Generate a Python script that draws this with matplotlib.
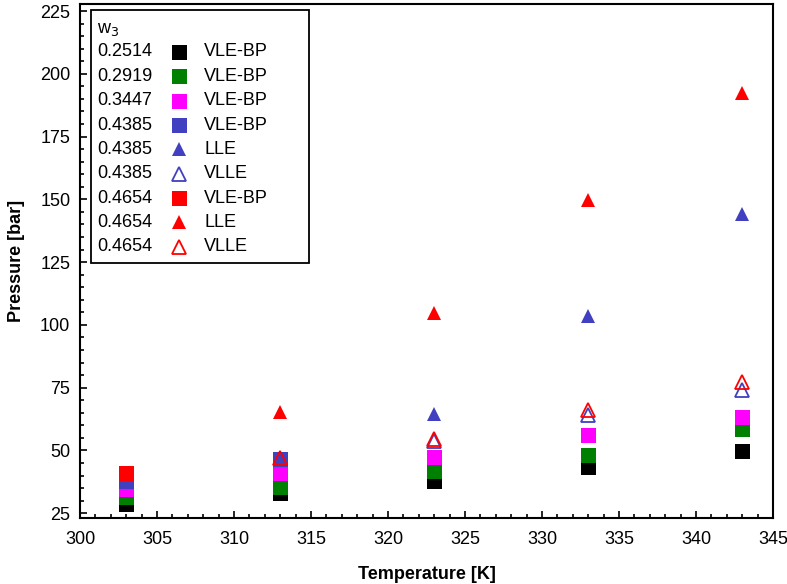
import numpy as np
import matplotlib.pyplot as plt
from matplotlib.patches import Rectangle
from matplotlib.ticker import MultipleLocator

plt.rcParams["font.family"] = ["Liberation Sans", "DejaVu Sans"]

# ── Data ──────────────────────────────────────────────────────────────────────
T_all = [303, 313, 323, 333, 343]

# VLE-BP (bubble point) series
bp_2514 = [28.5, 33.1, 38.0, 43.6, 49.9]
bp_2919 = [31.5, 35.4, 41.9, 48.2, 58.7]
bp_3447 = [34.6, 41.0, 47.5, 56.2, 63.4]
T_bp_4385 = [303, 313]
bp_4385 = [38.0, 46.6]
T_bp_4654 = [303]
bp_4654 = [41.0]

# LLE series
T_lle_4385 = [323, 333, 343]
lle_4385 = [64.6, 103.6, 144.1]
T_lle_4654 = [313, 323, 333, 343]
lle_4654 = [65.4, 104.7, 149.7, 192.5]

# VLLE series
T_vlle_4385 = [323, 333, 343]
vlle_4385 = [53.6, 64.0, 74.1]
T_vlle_4654 = [313, 323, 333, 343]
vlle_4654 = [46.8, 54.4, 66.1, 77.1]

BLUE = "#4040C0"
GREEN = "#008000"
MAGENTA = "#FF00FF"
RED = "#FF0000"

# (w3 label, T, P, colour, marker, filled, kind)
series = [
    ("0.2514", T_all, bp_2514, "black", "s", True, "VLE-BP"),
    ("0.2919", T_all, bp_2919, GREEN, "s", True, "VLE-BP"),
    ("0.3447", T_all, bp_3447, MAGENTA, "s", True, "VLE-BP"),
    ("0.4385", T_bp_4385, bp_4385, BLUE, "s", True, "VLE-BP"),
    ("0.4385", T_lle_4385, lle_4385, BLUE, "^", True, "LLE"),
    ("0.4385", T_vlle_4385, vlle_4385, BLUE, "^", False, "VLLE"),
    ("0.4654", T_bp_4654, bp_4654, RED, "s", True, "VLE-BP"),
    ("0.4654", T_lle_4654, lle_4654, RED, "^", True, "LLE"),
    ("0.4654", T_vlle_4654, vlle_4654, RED, "^", False, "VLLE"),
]

FS = 13

# ── Plot ──────────────────────────────────────────────────────────────────────
W, H = 787, 584
fig = plt.figure(figsize=(W / 100, H / 100), dpi=100)
ax = fig.add_axes([80 / W, 1 - 517.5 / H, 693 / W, 513.5 / H])

def msize(marker):
    return 10.8 if marker == "s" else 9.6

for lab, T, P, col, mk, filled, kind in series:
    ax.plot(T, P, linestyle="none", marker=mk, ms=msize(mk),
            mfc=col if filled else "none", mec=col,
            mew=0 if filled else 1.3, zorder=3)

ax.set_xlim(300, 345)
ax.set_ylim(23.3, 227.8)
ax.xaxis.set_major_locator(MultipleLocator(5))
ax.xaxis.set_minor_locator(MultipleLocator(1))
ax.yaxis.set_major_locator(MultipleLocator(25))
ax.yaxis.set_minor_locator(MultipleLocator(5))
ax.set_yticks(np.arange(25, 226, 25))
ax.tick_params(which="both", direction="in", top=False, right=False,
               labelsize=FS, width=1.2)
ax.tick_params(which="major", length=5)
ax.tick_params(which="minor", length=3)
ax.tick_params(axis="x", which="major", pad=9.5)
ax.tick_params(axis="y", which="major", pad=7)
for sp in ax.spines.values():
    sp.set_linewidth(1.5)

ax.set_xlabel("Temperature [K]", fontsize=FS, fontweight="bold", labelpad=13)
ax.set_ylabel("Pressure [bar]", fontsize=FS, fontweight="bold", labelpad=11)

# ── Legend (drawn by hand to get the three-column layout) ─────────────────────
def fx(px):
    return px / W

def fy(py):
    return 1 - py / H

box = Rectangle((fx(91), fy(263)), fx(309) - fx(91), fy(10) - fy(263),
                transform=fig.transFigure, fill=True, facecolor="white",
                edgecolor="black", linewidth=1.3, zorder=5)
fig.patches.append(box)
fig.text(fx(97), fy(30), "w$_3$", fontsize=FS, va="center", ha="left", zorder=6)
for i, (lab, T, P, col, mk, filled, kind) in enumerate(series):
    yy = fy(52 + i * 24.35)
    fig.text(fx(97), yy, lab, fontsize=FS, va="center", ha="left", zorder=6)
    fig.text(fx(204), yy, kind, fontsize=FS, va="center", ha="left", zorder=6)
    ln = plt.Line2D([fx(179)], [yy], transform=fig.transFigure, marker=mk,
                    ms=msize(mk), linestyle="none",
                    mfc=col if filled else "none", mec=col,
                    mew=0 if filled else 1.3, zorder=6)
    fig.lines.append(ln)

fig.savefig("out.png", dpi=100)
